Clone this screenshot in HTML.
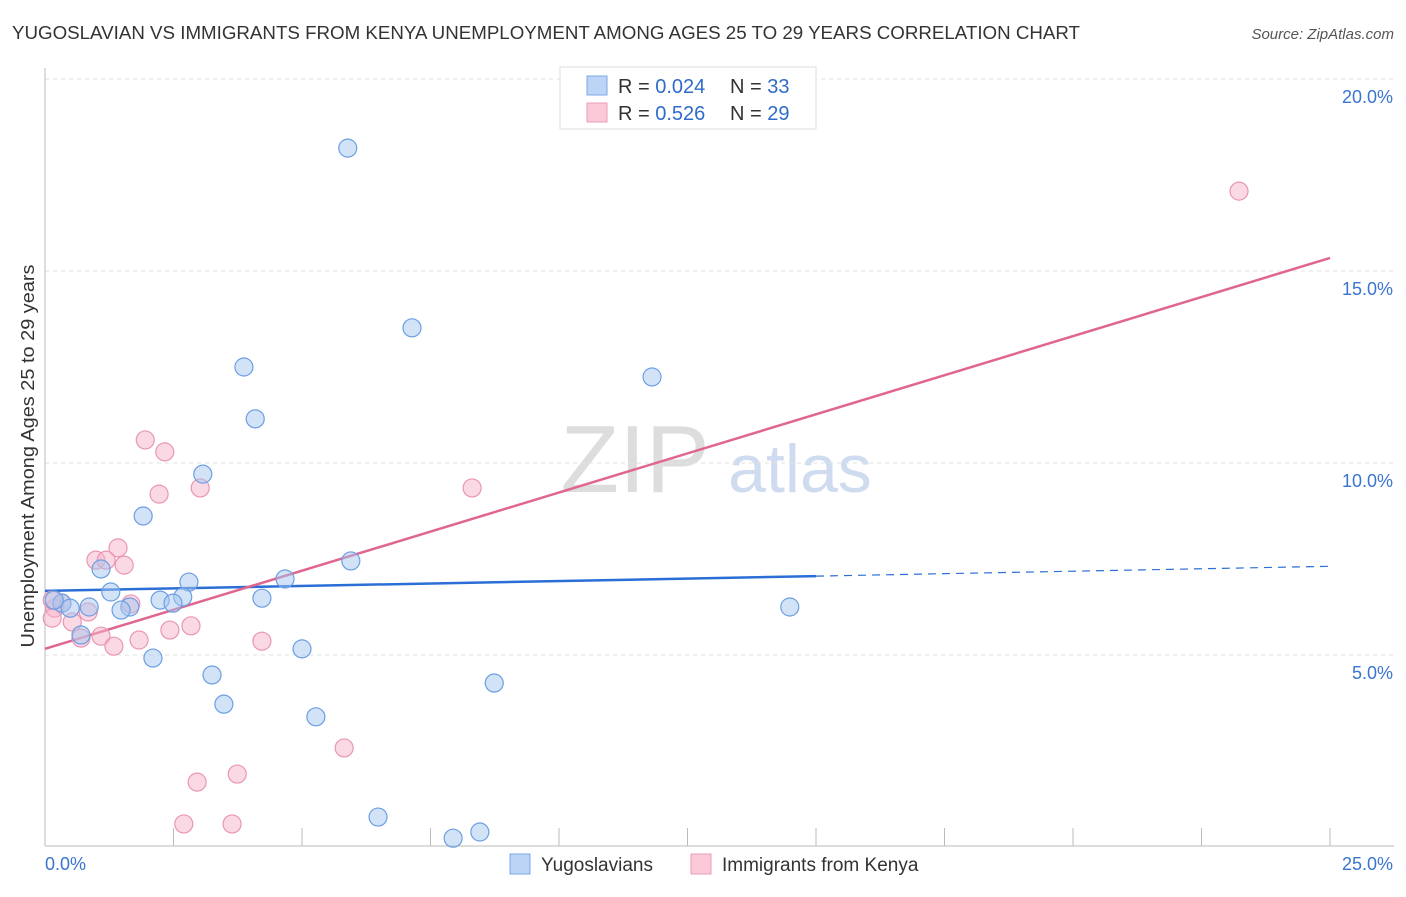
<!DOCTYPE html>
<html><head><meta charset="utf-8"><style>
body{margin:0;background:#fff;font-family:"Liberation Sans",sans-serif;}
svg text{font-family:"Liberation Sans",sans-serif;}
</style></head><body>
<svg id="chart" width="1406" height="892">
<text x="12" y="39" font-size="18" fill="#333" textLength="1068" lengthAdjust="spacingAndGlyphs">YUGOSLAVIAN VS IMMIGRANTS FROM KENYA UNEMPLOYMENT AMONG AGES 25 TO 29 YEARS CORRELATION CHART</text>
<text x="1394" y="39" font-size="15" fill="#555" font-style="italic" text-anchor="end">Source: ZipAtlas.com</text>
<text x="635" y="492" font-size="96" fill="#ddd" font-family="Liberation Serif" text-anchor="middle">ZIP</text>
<text x="800" y="492" font-size="68" fill="#cfdcf0" text-anchor="middle">atlas</text>
<g id="grid"></g><g id="axes"></g><g id="lines"></g><g id="pts"></g>
<text transform="translate(34,456) rotate(-90)" font-size="18" fill="#333" text-anchor="middle" textLength="383" lengthAdjust="spacingAndGlyphs">Unemployment Among Ages 25 to 29 years</text>
<g>
<rect x="560" y="67" width="256" height="62" fill="#fff" stroke="#ddd"/>
<rect x="587" y="76" width="20" height="19" fill="#bcd5f7" stroke="#7aa7e6"/>
<rect x="587" y="103" width="20" height="19" fill="#fbc9d8" stroke="#ec9bb6"/>
<text x="618" y="93" font-size="20" fill="#333">R = <tspan fill="#2f6cc9">0.024</tspan><tspan x="730">N = </tspan><tspan fill="#2f6cc9">33</tspan></text>
<text x="618" y="120" font-size="20" fill="#333">R = <tspan fill="#2f6cc9"> 0.526</tspan><tspan x="730">N = </tspan><tspan fill="#2f6cc9">29</tspan></text>
</g>
<g>
<rect x="510" y="854" width="20" height="20" fill="#bcd5f7" stroke="#7aa7e6"/>
<text x="541" y="871" font-size="19" fill="#333">Yugoslavians</text>
<rect x="691" y="854" width="20" height="20" fill="#fbc9d8" stroke="#ec9bb6"/>
<text x="722" y="871" font-size="19" fill="#333">Immigrants from Kenya</text>
</g>
</svg>
<script>
const blueX=[5.89,7.14,3.87,4.09,11.81,3.07,1.91,1.09,5.95,2.80,4.67,1.28,2.68,2.24,4.22,2.49,0.86,1.65,1.48,0.33,0.49,0.18,14.49,0.70,2.10,5.00,3.25,8.74,3.48,5.27,6.48,8.46,7.94];
const blueY=[18.2,13.52,12.5,11.15,12.24,9.71,8.62,7.24,7.45,6.90,6.98,6.64,6.51,6.43,6.48,6.35,6.25,6.25,6.17,6.35,6.22,6.43,6.25,5.52,4.92,5.16,4.48,4.27,3.72,3.39,0.78,0.39,0.23];
const pinkX=[23.23,1.95,2.33,2.22,3.02,8.31,1.42,0.99,1.19,1.54,1.67,0.84,0.33,0.19,0.14,0.53,0.70,1.09,1.34,1.83,2.43,2.84,4.22,5.82,3.74,2.96,2.70,3.64,0.14];
const pinkY=[17.08,10.60,10.29,9.19,9.35,9.35,7.79,7.47,7.47,7.34,6.33,6.12,6.35,6.22,5.96,5.86,5.44,5.49,5.23,5.39,5.65,5.76,5.36,2.58,1.90,1.69,0.60,0.60,6.43];
const blueTrend=[6.67,7.31];const blueSolidEnd=15;
const pinkTrend=[5.16,15.34];
const yTicks=[5,10,15,20];const yTickLabels=["5.0%","10.0%","15.0%","20.0%"];
const xTickCount=10;
const NS="http://www.w3.org/2000/svg";
const sx=v=>45+v*1285/25, sy=v=>847-v*38.4;
function mk(p,t,a){const e=document.createElementNS(NS,t);for(const k in a)e.setAttribute(k,a[k]);document.getElementById(p).appendChild(e);return e;}
yTicks.forEach((t,i)=>{
 const g=mk('grid','line',{x1:45,x2:1394,y1:sy(t),y2:sy(t),stroke:'#e2e2e2','stroke-dasharray':'4,4'});
 
 
 const l=mk('axes','text',{x:1393,y:sy(t)+24,'font-size':18,fill:'#3a74d0','text-anchor':'end'});l.textContent=yTickLabels[i];
 
 
});
const ax=mk('axes','line',{x1:45,x2:45,y1:68,y2:846,stroke:'#bbb'});


const bx=mk('axes','line',{x1:45,x2:1394,y1:846,y2:846,stroke:'#bbb'});


for(let i=1;i<=xTickCount;i++){const x=sx(25*i/xTickCount);const t=mk('axes','line',{x1:x,x2:x,y1:828,y2:846,stroke:'#bbb'});
 
 }
const x0=mk('axes','text',{x:45,y:870,'font-size':18,fill:'#3a74d0'});x0.textContent='0.0%';


const x1=mk('axes','text',{x:1393,y:870,'font-size':18,fill:'#3a74d0','text-anchor':'end'});x1.textContent='25.0%';


const bv=v=>blueTrend[0]+(blueTrend[1]-blueTrend[0])*v/25;
const b1=mk('lines','line',{x1:sx(0),y1:sy(bv(0)),x2:sx(blueSolidEnd),y2:sy(bv(blueSolidEnd)),stroke:'#2b6fd6','stroke-width':2.5});


const b2=mk('lines','line',{x1:sx(blueSolidEnd),y1:sy(bv(blueSolidEnd)),x2:sx(25),y2:sy(bv(25)),stroke:'#2b6fd6','stroke-width':1.2,'stroke-dasharray':'8,6'});


const p1=mk('lines','line',{x1:sx(0),y1:sy(pinkTrend[0]),x2:sx(25),y2:sy(pinkTrend[1]),stroke:'#e0668f','stroke-width':2.5});


pinkX.forEach((x,i)=>{const c=mk('pts','circle',{cx:sx(x),cy:sy(pinkY[i]),r:9,fill:'rgba(248,180,202,0.5)',stroke:'#e996b3','stroke-width':1.2});
 
 });
blueX.forEach((x,i)=>{const c=mk('pts','circle',{cx:sx(x),cy:sy(blueY[i]),r:9,fill:'rgba(165,198,240,0.5)',stroke:'#6c9fe2','stroke-width':1.2});
 
 });
</script>
</body></html>
